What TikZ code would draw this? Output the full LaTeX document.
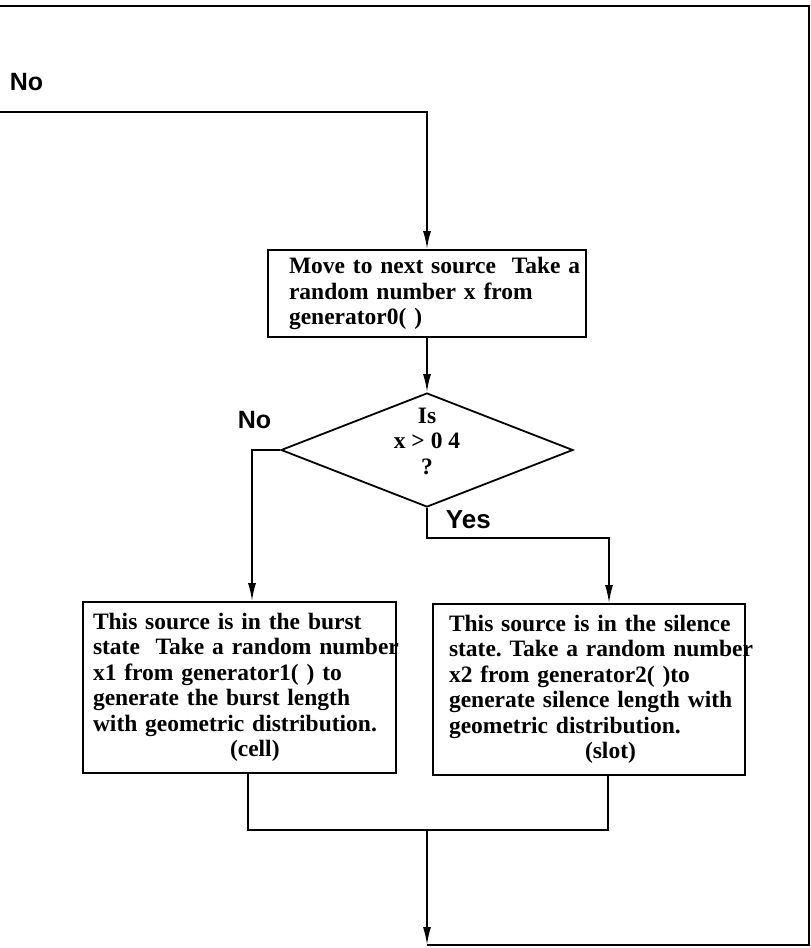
\documentclass[tikz,border=0pt]{standalone}
\usepackage{fontspec}
\setmainfont{Liberation Serif}
\newfontfamily\labelsans{Liberation Sans}
\usetikzlibrary{shapes.geometric,arrows.meta}
\frenchspacing

\begin{document}
\begin{tikzpicture}[x=1pt,y=-1pt,
  line width=1.8pt,
  flow/.style={-{Latex[length=18pt,width=8pt]}},
  boxtext/.style={font=\bfseries\fontsize{23.5}{25.5}\selectfont},
  procbox/.style={draw, rectangle, align=left, boxtext, inner ysep=0pt},
  decision/.style={draw, diamond, shape aspect=2.56, minimum width=292pt,
    minimum height=114pt, inner sep=0pt},
  answer/.style={font=\labelsans\bfseries\fontsize{25}{30}\selectfont,
    anchor=base west, inner sep=0pt},
]
\useasboundingbox (0,0) rectangle (811,948);

% process boxes
\node[procbox, text width=276pt, inner xsep=21pt, minimum height=87pt] (move)
  at (427,293.5)
  {\mbox{Move to next source~ Take a}\\ \mbox{random number x from}\\ \mbox{generator0( )}};

\node[procbox, text width=293pt, inner xsep=10pt, minimum height=171pt] (burst)
  at (239.5,687.5)
  {\mbox{This source is in the burst}\\
   \mbox{state~ Take a random number}\\
   \mbox{x1 from generator1( ) to}\\
   \mbox{generate the burst length}\\
   \mbox{with geometric distribution.}\\
   \hspace*{137pt}(cell)};

\node[procbox, text width=280pt, inner xsep=16pt, minimum height=171pt] (silence)
  at (589,689.5)
  {\mbox{This source is in the silence}\\
   \mbox{state. Take a random number}\\
   \mbox{x2 from generator2( )to}\\
   \mbox{generate silence length with}\\
   \mbox{geometric distribution.}\\
   \hspace*{136pt}(slot)};

% decision
\node[decision] (test) at (427,450) {};
\node[boxtext, align=center, inner sep=0pt] (testtext) at (427,441)
  {Is\\ x > 0 4\\ ?};

% branch labels
\node[answer] (notop) at (9,90) {No};
\node[answer] (noleft) at (237,428) {No};
\node[answer, font=\labelsans\bfseries\fontsize{26}{30}\selectfont] (yes) at (445,528) {Yes};

% connectors
\coordinate (loopin) at (0,112);
\draw[flow] (loopin) -| (move.north);
\draw[flow] (move.south) -- (test.north);

\coordinate (nobend) at (252,450);
\draw[flow] (test.west) -- (nobend) -- (nobend |- burst.north);

\coordinate (yesbend) at (609,538);
\draw[flow] (test.south) |- (yesbend) -- (yesbend |- silence.north);

\coordinate (mergeL) at (248,830);
\coordinate (mergeR) at (608,830);
\coordinate (merge) at (427,830);
\draw (mergeL |- burst.south) -- (mergeL) -- (mergeR) -- (mergeR |- silence.south);

\coordinate (exit) at (427,945);
\coordinate (rightturn) at (809,945);
\coordinate (topturn) at (809,6);
\coordinate (topout) at (0,6);
\draw[flow] (merge) -- (exit);
\draw (exit) -- (rightturn) -- (topturn) -- (topout);
\end{tikzpicture}
\end{document}
